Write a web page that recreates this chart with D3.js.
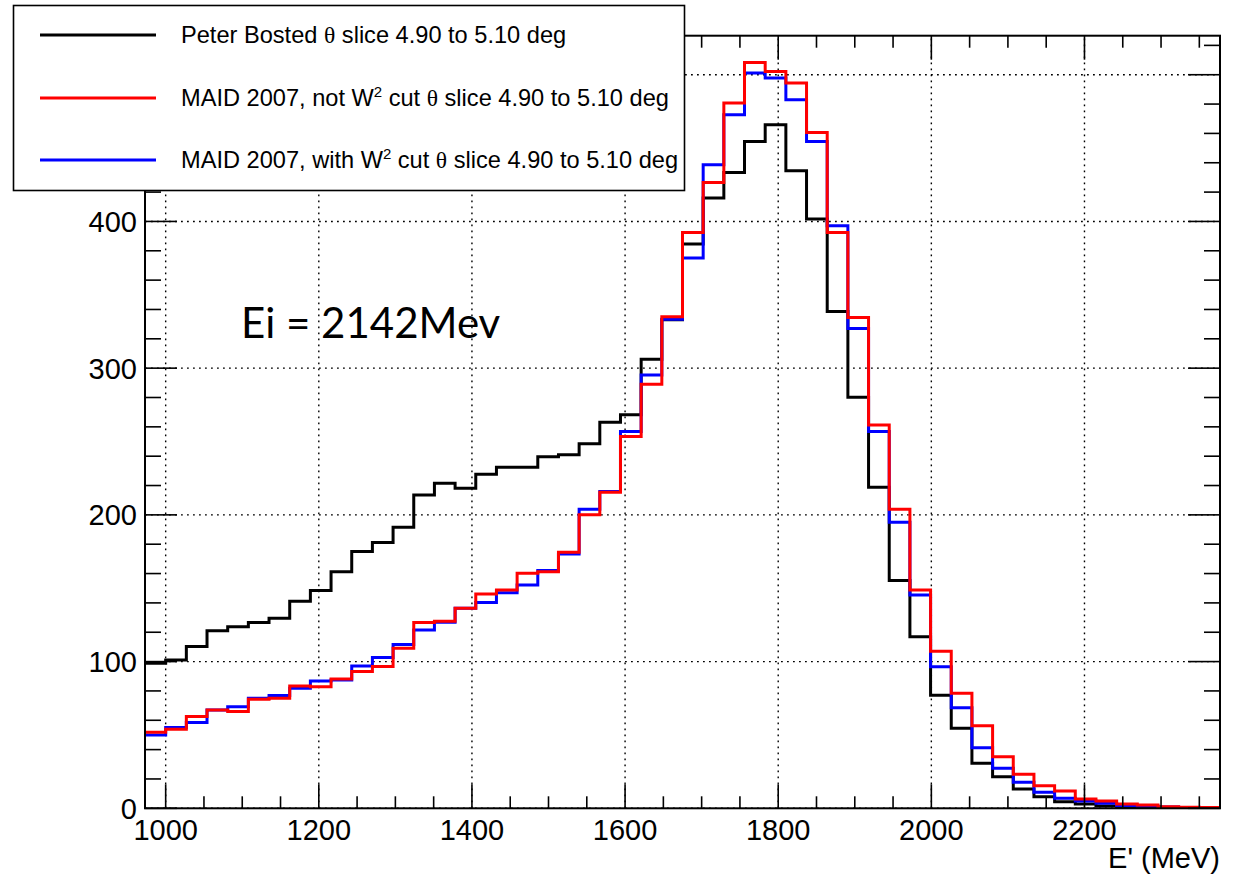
<!DOCTYPE html>
<html>
<head>
<meta charset="utf-8">
<script src="https://cdn.jsdelivr.net/npm/d3@7"></script>
<style>
  html, body { margin: 0; padding: 0; background: #fff; }
  svg { display: block; }
</style>
</head>
<body>
<svg id="chart" width="1245" height="877"></svg>
<script>
// ---- data (bin contents) ----
const binStart = 973;   // MeV, lower edge of first bin
const binWidth = 27;    // MeV
const bosted = [98.9, 101.1, 110.2, 121.0, 123.8, 126.7, 129.5, 141.1, 148.4, 161.3,
  175.0, 181.1, 191.6, 213.6, 221.6, 218.2, 227.7, 232.5, 232.5, 239.7,
  240.9, 248.4, 263.2, 268.2, 306.1, 333.0, 384.7, 415.9, 433.4, 454.5,
  465.9, 434.5, 401.6, 338.6, 280.2, 218.9, 155.2, 117.0, 77.0, 54.5,
  30.7, 21.5, 13.2, 7.9, 4.5, 2.9, 1.6, 0.8, 0.5, 0.3, 0.2, 0.1];
const maidNoCut = [51.8, 53.9, 62.5, 67.0, 65.9, 74.3, 75.0, 83.4, 82.9, 88.2,
  93.2, 96.6, 109.1, 126.6, 127.5, 136.4, 146.1, 148.8, 160.2, 161.3,
  174.5, 200.0, 215.4, 253.4, 289.1, 335.0, 392.5, 426.6, 480.7, 508.4,
  502.2, 494.3, 460.6, 392.5, 334.6, 261.3, 203.9, 148.8, 107.0, 78.4,
  56.3, 35.2, 23.2, 15.4, 11.8, 6.3, 5.0, 2.9, 2.3, 1.1, 0.7, 0.5];
const maidWCut = [50.0, 55.0, 58.4, 67.0, 69.3, 75.0, 76.8, 81.8, 86.8, 87.5,
  97.0, 102.7, 111.6, 121.6, 126.8, 136.4, 140.2, 147.0, 152.2, 162.0,
  173.4, 203.9, 215.9, 256.8, 295.4, 333.4, 375.0, 438.6, 472.7, 501.1,
  497.7, 482.9, 454.5, 397.0, 327.0, 256.8, 195.0, 145.4, 96.5, 68.6,
  41.3, 27.3, 17.7, 10.9, 6.8, 5.0, 3.4, 1.9, 1.6, 0.9, 0.5, 0.4];
const xTickValues = [1000, 1200, 1400, 1600, 1800, 2000, 2200];
const yTickValues = [0, 100, 200, 300, 400, 500];
const seriesNames = [
  "Peter Bosted",
  "MAID 2007, not W",
  "MAID 2007, with W"
];
const annotation = "Ei = 2142Mev";
const xTitle = "E' (MeV)";

// ---- layout ----
const svg = d3.select("#chart");
const L = 145, R = 1220, T = 35.7, B = 808.3;
const nBins = bosted.length;
const x = d3.scaleLinear().domain([binStart, binStart + nBins * binWidth]).range([L, R]);
const y = d3.scaleLinear().domain([0, 526.6]).range([B, T]);

svg.append("rect").attr("width", 1245).attr("height", 877).attr("fill", "#fff");

svg.append("defs").append("clipPath").attr("id", "plotclip")
  .append("rect").attr("x", L).attr("y", T).attr("width", R - L).attr("height", B - T);

// grid
const grid = svg.append("g").attr("stroke", "#000").attr("stroke-width", 1.4)
  .attr("stroke-dasharray", "1.8,4.2");
xTickValues.forEach(v => grid.append("line")
  .attr("x1", x(v)).attr("x2", x(v)).attr("y1", B).attr("y2", T));
yTickValues.forEach(v => grid.append("line")
  .attr("x1", L).attr("x2", R).attr("y1", y(v)).attr("y2", y(v)));

// histograms
function stepPoints(vals) {
  const pts = vals.map((v, i) => [binStart + i * binWidth, v]);
  pts.push([binStart + vals.length * binWidth, vals[vals.length - 1]]);
  return pts;
}
const line = d3.line().x(d => x(d[0])).y(d => y(d[1])).curve(d3.curveStepAfter);
const hg = svg.append("g").attr("clip-path", "url(#plotclip)");
[[bosted, "#000"], [maidWCut, "#0000ff"], [maidNoCut, "#ff0000"]].forEach(([vals, col]) => {
  hg.append("path").attr("d", line(stepPoints(vals)))
    .attr("fill", "none").attr("stroke", col).attr("stroke-width", 3)
    .attr("stroke-linejoin", "miter").attr("stroke-linecap", "butt");
});

// axes (ticks inward on all sides)
const axG = svg.append("g").attr("stroke", "#000");
const xMinor = d3.range(1000, binStart + nBins * binWidth, 50);
xMinor.forEach(v => {
  const major = xTickValues.includes(v);
  const len = major ? 24 : 12;
  axG.append("line").attr("x1", x(v)).attr("x2", x(v)).attr("y1", B).attr("y2", B - len).attr("stroke-width", 1.6);
  axG.append("line").attr("x1", x(v)).attr("x2", x(v)).attr("y1", T).attr("y2", T + len).attr("stroke-width", 1.6);
});
const yMinor = d3.range(0, 527, 20);
yMinor.forEach(v => {
  const major = yTickValues.includes(v);
  const len = major ? 32 : 16;
  axG.append("line").attr("x1", L).attr("x2", L + len).attr("y1", y(v)).attr("y2", y(v)).attr("stroke-width", 1.6);
  axG.append("line").attr("x1", R).attr("x2", R - len).attr("y1", y(v)).attr("y2", y(v)).attr("stroke-width", 1.6);
});
svg.append("rect").attr("x", L).attr("y", T).attr("width", R - L).attr("height", B - T)
  .attr("fill", "none").attr("stroke", "#000").attr("stroke-width", 2);

// tick labels
const font = "'Liberation Sans', Arial, Helvetica, sans-serif";
svg.append("g").selectAll("text").data(xTickValues).join("text")
  .attr("x", d => x(d)).attr("y", 840).attr("text-anchor", "middle")
  .attr("font-family", font).attr("font-size", 29).text(d => d);
svg.append("g").selectAll("text").data(yTickValues).join("text")
  .attr("x", 137).attr("y", d => y(d) + 10.5).attr("text-anchor", "end")
  .attr("font-family", font).attr("font-size", 29).text(d => d);
svg.append("text").attr("x", 1220).attr("y", 868).attr("text-anchor", "end")
  .attr("font-family", font).attr("font-size", 29).text(xTitle);

// annotation
svg.append("text").attr("x", 241).attr("y", 338).attr("font-family", "Lato, 'Open Sans', sans-serif")
  .attr("font-size", 42).text(annotation);

// legend
const lg = svg.append("g");
lg.append("rect").attr("x", 13.5).attr("y", 5.5).attr("width", 671).attr("height", 185)
  .attr("fill", "#fff").attr("stroke", "#000").attr("stroke-width", 1.6);
const legendRows = [
  { name: seriesNames[0], col: "#000", y: 35, sup: false },
  { name: seriesNames[1], col: "#ff0000", y: 98, sup: true },
  { name: seriesNames[2], col: "#0000ff", y: 160, sup: true }
];
legendRows.forEach(r => {
  lg.append("line").attr("x1", 40).attr("x2", 156).attr("y1", r.y).attr("y2", r.y)
    .attr("stroke", r.col).attr("stroke-width", 3);
  const t = lg.append("text").attr("x", 181).attr("y", r.y + 8)
    .attr("font-family", font).attr("font-size", 23.6);
  t.append("tspan").text(r.name);
  if (r.sup) {
    t.append("tspan").attr("dy", -9).attr("font-size", 15).text("2");
    t.append("tspan").attr("dy", 9).text(" cut ");
  } else {
    t.append("tspan").text(" ");
  }
  t.append("tspan").attr("font-family", "'Liberation Serif', 'DejaVu Serif', serif").text("θ");
  t.append("tspan").text(" slice 4.90 to 5.10 deg");
});
</script>
</body>
</html>
